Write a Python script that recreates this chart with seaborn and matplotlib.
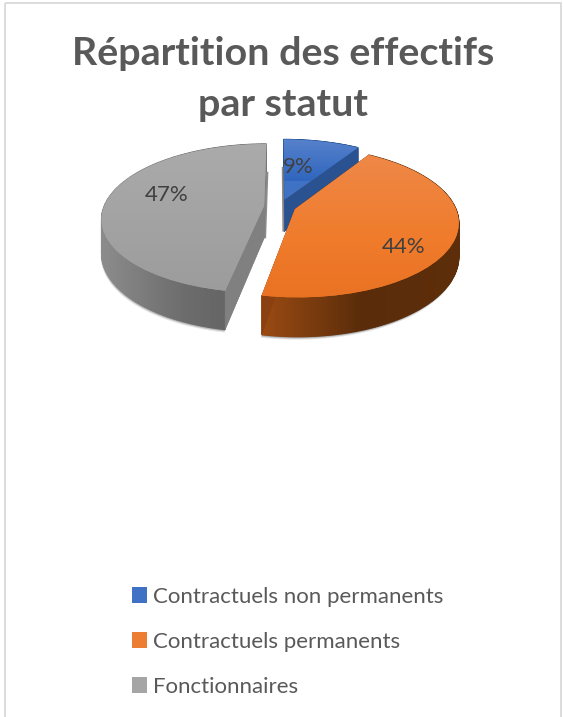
import numpy as np
import matplotlib
matplotlib.use("Agg")
import matplotlib.pyplot as plt
from matplotlib.colors import LinearSegmentedColormap
from matplotlib.patches import Patch, Rectangle
from matplotlib.transforms import Transform
import seaborn as sns

# ---- data ----
categories = ["Contractuels non permanents", "Contractuels permanents", "Fonctionnaires"]
shares = [9, 44, 47]
title = "Répartition des effectifs\npar statut"

# ---- style ----
key_colors = ["#3F72C4", "#ED7D31", "#A5A5A5"]
top_grad = [["#5F87CE", "#2F66BE"], ["#EE8B50", "#F07C2C", "#E56A1C"], ["#ACACAC", "#989898"]]
wall_stops = [["#1F4E8C", "#1F4E8C"], ["#9A4A12", "#5A2C0A", "#5E2E0A"], ["#8C8C8C", "#6C6C6C", "#5E5E5E"]]
side_color = ["#2A5290", "#8A4010", "#808080"]
label_xy = [(298, 167), (404, 247), (167, 195)]

sns.set_theme(style="white")
plt.rcParams["font.family"] = ["Lato", "DejaVu Sans"]
TEXT = "#595959"

CX, CY, A, B, P, DEPTH = 280.0, 206.5, 160.0, 72.4, 0.1675, 32.5


def project(u, v, z=0.0):
    w = 1 + P * np.asarray(v)
    x = CX + A * np.asarray(u) / w
    y = CY - B * np.asarray(v) / w + z * DEPTH / w
    return x, y


class Perspective(Transform):
    input_dims = output_dims = 2
    is_separable = False
    has_inverse = False

    def __init__(self, z=0.0):
        super().__init__()
        self.z = z

    def transform_non_affine(self, values):
        x, y = project(values[:, 0], values[:, 1], self.z)
        return np.column_stack([x, y])


fig = plt.figure(figsize=(5.63, 7.17), dpi=100, facecolor="white")
ax = fig.add_axes([0, 0, 1, 1])

wedges, _ = ax.pie(shares, explode=[0.1] * len(shares), startangle=90, counterclock=False,
                   colors=key_colors, radius=1.0)
top = Perspective(0.0) + ax.transData


def grad_image(stops, extent, clip, zorder):
    cmap = LinearSegmentedColormap.from_list("g", stops)
    g = np.linspace(0, 1, 256)[:, None]
    im = ax.imshow(g, cmap=cmap, extent=extent, aspect="auto", zorder=zorder,
                   interpolation="bilinear", origin="upper")
    im.set_clip_path(clip)
    return im


for i in [0, 2, 1]:
    w = wedges[i]
    base = 10 + {0: 0, 2: 10, 1: 20}[i]
    c = np.array(w.center)
    t = np.radians(np.linspace(w.theta1, w.theta2, 160))
    u = c[0] + np.cos(t)
    v = c[1] + np.sin(t)

    w.set_transform(top)
    w.set_zorder(base + 3)
    w.set_edgecolor("none")

    # soft shadow below the slab
    xs, ys = project(u, v, 1.0)
    x0, y0 = project(c[0], c[1], 1.0)
    for off, al in [(3.0, 0.10), (2.0, 0.16), (1.0, 0.22)]:
        ax.fill(np.r_[x0, xs - off * 0.3], np.r_[y0, ys + off], color="black", alpha=al,
                lw=0, zorder=base)

    # outer wall
    xt, yt = project(u, v, 0.0)
    xb, yb = project(u, v, 1.0)
    cmap = LinearSegmentedColormap.from_list("w", wall_stops[i])
    for k in range(len(t) - 1):
        pos = (xt[k] - xt.min()) / (xt.max() - xt.min())
        ax.fill([xt[k], xt[k + 1], xb[k + 1], xb[k]], [yt[k], yt[k + 1], yb[k + 1], yb[k]],
                color=cmap(pos), lw=0.9, zorder=base + 1)

    # flat radial walls
    x1, y1 = project(c[0], c[1], 0.0)
    x4, y4 = project(c[0], c[1], 1.0)
    for th in (t[0], t[-1]):
        x2, y2 = project(c[0] + np.cos(th), c[1] + np.sin(th), 0.0)
        x3, y3 = project(c[0] + np.cos(th), c[1] + np.sin(th), 1.0)
        ax.fill([x1, x2, x3, x4], [y1, y2, y3, y4], color=side_color[i], lw=0.4,
                zorder=base + 2)
        # thin strip showing the almost edge-on wall along the vertical cut
        if abs(np.cos(th)) < 1e-6:
            s = 2.0 if i == 2 else -2.0
            ax.fill([x3, x4, x4 + s, x3 + s], [y3, y4, y4, y3], color="#6E6E6E", lw=0,
                    alpha=0.8, zorder=base + 2)

    # top surface with gradient
    grad_image(top_grad[i], (80, 480, yb.max() + 5, 130), w, base + 4)

ax.set_aspect("auto")
ax.set_xlim(0, 563)
ax.set_ylim(717, 0)
ax.set_axis_off()

for val, (x, y) in zip(shares, label_xy):
    ax.text(x, y, f"{val}%", ha="center", va="center", fontsize=16, color="#404040", zorder=60)

ax.text(283, 79, title, ha="center", va="center", fontsize=28.4, fontweight="bold",
        color=TEXT, linespacing=1.55, zorder=60)

ax.add_patch(Rectangle((5, 3), 555.5, 800, fill=False, edgecolor="#DCDCDC", lw=1.44, zorder=1))

handles = [Patch(facecolor=c, edgecolor="none") for c in key_colors]
ax.legend(handles, categories, loc="upper left", bbox_to_anchor=(123 / 563, 1 - 578 / 717),
          frameon=False, fontsize=16, labelcolor=TEXT, handlelength=0.68, handleheight=0.68,
          handletextpad=0.27, labelspacing=1.12, borderpad=0.4, borderaxespad=0)

fig.savefig("out.png", dpi=100, facecolor="white")
